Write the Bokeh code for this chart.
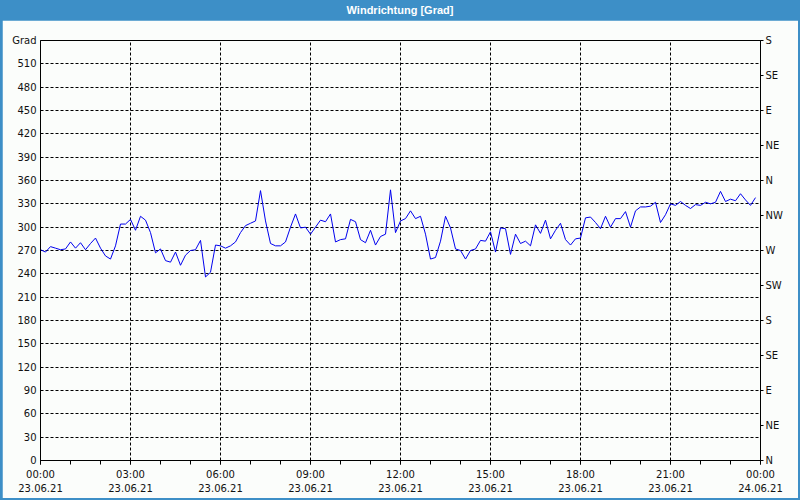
import pandas as pd
from bokeh.plotting import figure
from bokeh.models import (FixedTicker, DatetimeAxis, LinearAxis, Div,
                          Range1d, ColumnDataSource)
from bokeh.layouts import column
from bokeh.embed import file_html
from bokeh.resources import INLINE

# ---------------- data ----------------
title_text = "Windrichtung [Grad]"
y_unit = "Grad"
start_time = "2021-06-23 00:00"
end_time = "2021-06-24 00:00"

# wind direction every 10 minutes, 00:00 .. 23:50
direction = [
    271, 268, 275, 273, 271, 272, 281, 273, 280, 271, 279, 286, 273, 263, 259, 276, 304, 304,
    310, 296, 314, 309, 293, 267, 272, 257, 255, 268, 251, 264, 270, 271, 283, 236, 242, 277,
    276, 273, 276, 281, 293, 302, 305, 308, 347, 308, 279, 276, 276, 281, 300, 317, 299, 300,
    291, 300, 309, 307, 317, 281, 284, 285, 310, 307, 284, 280, 296, 277, 288, 291, 348, 293,
    308, 311, 321, 311, 314, 291, 259, 261, 282, 314, 299, 272, 270, 259, 270, 272, 283, 282,
    294, 268, 299, 298, 265, 291, 279, 282, 276, 303, 292, 309, 285, 296, 305, 284, 277, 285,
    286, 312, 313, 306, 298, 314, 300, 311, 311, 320, 300, 321, 326, 326, 327, 332, 306, 316,
    330, 328, 333, 328, 324, 329, 328, 332, 330, 332, 346, 333, 336, 334, 343, 335, 328, 338,
]
times = pd.date_range(start_time, periods=len(direction), freq="10min")

left_ticks = list(range(0, 541, 30))
left_labels = [str(v) for v in range(0, 511, 30)] + [y_unit]

compass_ticks = list(range(0, 541, 45))
compass_labels = ["N", "NE", "E", "SE", "S", "SW", "W", "NW", "N", "NE", "E", "SE", "S"]

major_times = pd.date_range(start_time, end_time, freq="3h")
minor_times = pd.date_range(start_time, end_time, freq="1h")
time_labels = ["00:00", "03:00", "06:00", "09:00", "12:00", "15:00", "18:00", "21:00", "00:00"]
date_labels = ["23.06.21"] * 8 + ["24.06.21"]

# ---------------- styling ----------------
BLUE = "#3d8fc7"
BG = "#fbfdfb"
FONT = "DejaVu Sans"
FS = "10px"

def ms(t):
    return pd.Timestamp(t).value / 1e6

major_ms = [ms(t) for t in major_times]
minor_ms = [ms(t) for t in minor_times]

src = ColumnDataSource(dict(t=times, d=direction))

p = figure(width=796, height=478, x_axis_type="datetime",
           x_range=Range1d(ms(start_time), ms(end_time)),
           y_range=Range1d(0, 540),
           output_backend="svg", toolbar_location=None,
           min_border_left=38, min_border_right=38, min_border_top=20, min_border_bottom=38,
           margin=(0, 2, 2, 2),
           background_fill_color=BG, border_fill_color=BG,
           outline_line_color="black", outline_line_width=1)

p.line("t", "d", source=src, line_color="#0000ee", line_width=1)

# x axis (times)
xa = p.xaxis[0]
xa.ticker = FixedTicker(ticks=major_ms, minor_ticks=minor_ms)
xa.major_label_overrides = {k: v for k, v in zip(major_ms, time_labels)}
xa.axis_line_color = "black"
xa.major_tick_in = 0
xa.major_tick_out = 4
xa.minor_tick_in = 0
xa.minor_tick_out = 4
xa.major_tick_line_color = "black"
xa.minor_tick_line_color = "black"
xa.major_label_standoff = 4
xa.major_label_text_font = FONT
xa.major_label_text_font_size = FS
xa.major_label_text_color = "#111111"

# second x axis (dates)
xa2 = DatetimeAxis(ticker=FixedTicker(ticks=major_ms),
                   major_label_overrides={k: v for k, v in zip(major_ms, date_labels)},
                   axis_line_color=None, major_tick_line_color=None, minor_tick_line_color=None,
                   major_label_standoff=-5, major_label_text_font=FONT,
                   major_label_text_font_size=FS, major_label_text_color="#111111")
p.add_layout(xa2, "below")

# left axis (top tick carries the unit)
ya = p.yaxis[0]
ya.ticker = FixedTicker(ticks=left_ticks)
ya.major_label_overrides = {k: v for k, v in zip(left_ticks, left_labels)}
ya.axis_line_color = "black"
ya.major_tick_in = 0
ya.major_tick_out = 0
ya.minor_tick_line_color = None
ya.major_label_standoff = 4
ya.major_label_text_font = FONT
ya.major_label_text_font_size = FS
ya.major_label_text_color = "#111111"

# right compass axis
ra = LinearAxis(ticker=FixedTicker(ticks=compass_ticks),
                major_label_overrides={k: v for k, v in zip(compass_ticks, compass_labels)},
                axis_line_color="black", major_tick_in=0, major_tick_out=3,
                minor_tick_line_color=None, major_label_standoff=2,
                major_label_text_font=FONT, major_label_text_font_size=FS,
                major_label_text_color="#111111")
p.add_layout(ra, "right")

# grids
p.xgrid.ticker = FixedTicker(ticks=major_ms[1:-1])
p.ygrid.ticker = FixedTicker(ticks=left_ticks[1:-1])
for g in (p.xgrid[0], p.ygrid[0]):
    g.grid_line_color = "black"
    g.grid_line_dash = "3 2"
    g.grid_line_width = 1

title = Div(text=title_text, width=800, height=20, margin=(0, 0, 0, 0),
            styles={"background-color": BLUE, "color": "white",
                    "font-family": "Liberation Sans", "font-weight": "bold",
                    "font-size": "11px", "text-align": "center",
                    "line-height": "20px"})

layout = column(title, p, spacing=0, width=800, height=500,
                styles={"background-color": BLUE})

open("out.html", "w").write(file_html(layout, INLINE))
